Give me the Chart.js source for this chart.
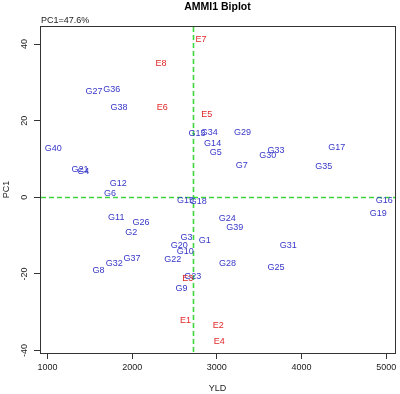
<!DOCTYPE html>
<html>
<head>
<meta charset="utf-8">
<script src="https://cdn.jsdelivr.net/npm/chart.js@4.4.1/dist/chart.umd.min.js"></script>
<style>
  body { margin: 0; background: #fff; }
</style>
</head>
<body>
<canvas id="biplot" width="400" height="394"></canvas>
<script>
// genotypes
var genNames = ["G1","G2","G3","G4","G5","G6","G7","G8","G9","G10",
  "G11","G12","G13","G14","G15","G16","G17","G18","G19","G20",
  "G21","G22","G23","G24","G25","G26","G27","G28","G29","G30",
  "G31","G32","G33","G34","G35","G36","G37","G38","G39","G40"];
var genYld = [2856,1989,2643,1423,2986,1738,3293,1604,2584,2627,
  1812,1836,2765,2950,2631,4977,4414,2781,4906,2556,
  1384,2478,2714,3123,3698,2104,1549,3127,3304,3600,
  3843,1789,3698,2910,4261,1758,1998,1844,3210,1068];
var genPc1 = [-11.2,-9.1,-10.5,6.6,11.8,1.1,8.3,-19.0,-23.8,-14.2,
  -5.3,3.7,16.7,14.0,-0.9,-0.9,13.1,-1.2,-4.3,-12.5,
  7.3,-16.3,-20.7,-5.5,-18.3,-6.5,27.7,-17.4,16.9,11.0,
  -12.5,-17.2,12.2,17.0,8.0,28.2,-16.1,23.5,-7.8,12.8];

// environments
var envNames = ["E1","E2","E3","E4","E5","E6","E7","E8"];
var envYld = [2631,3017,2655,3028,2880,2355,2812,2340];
var envPc1 = [-32.2,-33.4,-21.1,-37.6,21.7,23.5,41.3,35.0];

var meanYld = 2721;
var xTicks = [1000,2000,3000,4000,5000];
var yTicks = [-40,-20,0,20,40];

var FONT = "'Liberation Sans', Arial, sans-serif";

function toPoints(xs, ys){
  var pts = [];
  for (var i = 0; i < xs.length; i++) pts.push({x: xs[i], y: ys[i]});
  return pts;
}

// draws mean lines, point labels, box, title
var biplotPlugin = {
  id: "biplot",
  afterDatasetsDraw: function(chart){
    var ctx = chart.ctx, a = chart.chartArea;
    var xs = chart.scales.x, ys = chart.scales.y;

    // dashed green lines
    ctx.save();
    ctx.strokeStyle = "rgb(60,215,60)";
    ctx.lineWidth = 1.6;
    ctx.setLineDash([5,3]);
    var px = Math.round(xs.getPixelForValue(meanYld)) + 0.5;
    var py = Math.round(ys.getPixelForValue(0)) + 0.5;
    ctx.beginPath();
    ctx.moveTo(px, a.top + 1); ctx.lineTo(px, a.bottom);
    ctx.moveTo(a.left + 1, py); ctx.lineTo(a.right, py);
    ctx.stroke();
    ctx.restore();

    ctx.save();
    ctx.font = "9px " + FONT;
    ctx.textAlign = "center";
    ctx.textBaseline = "middle";
    chart.data.datasets.forEach(function(ds, di){
      var meta = chart.getDatasetMeta(di);
      ctx.fillStyle = ds.textColor;
      meta.data.forEach(function(el, i){
        ctx.fillText(ds.names[i], el.x, el.y);
      });
    });
    // box
    ctx.strokeStyle = "#333";
    ctx.lineWidth = 1;
    ctx.strokeRect(Math.round(a.left) + 0.5, Math.round(a.top) + 0.5,
      Math.round(a.right - a.left), Math.round(a.bottom - a.top));
    // titles
    ctx.fillStyle = "#000";
    ctx.font = "bold 10.5px " + FONT;
    ctx.fillText("AMMI1 Biplot", (a.left + a.right) / 2, 7);
    ctx.fillStyle = "#222";
    ctx.font = "9px " + FONT;
    ctx.textAlign = "left";
    ctx.fillText("PC1=47.6%", a.left + 1, 21);
    ctx.restore();
  }
};

new Chart(document.getElementById("biplot"), {
  type: "scatter",
  data: {
    datasets: [
      {names: genNames, textColor: "rgb(55,55,200)", data: toPoints(genYld, genPc1), pointRadius: 0},
      {names: envNames, textColor: "rgb(225,40,40)", data: toPoints(envYld, envPc1), pointRadius: 0}
    ]
  },
  options: {
    responsive: false,
    animation: false,
    layout: {padding: {left: 0, top: 26, right: 5, bottom: 0}},
    plugins: {legend: {display: false}, tooltip: {enabled: false}},
    scales: {
      x: {
        type: "linear",
        min: 912, max: 5103,
        afterBuildTicks: function(s){ s.ticks = xTicks.map(function(v){ return {value: v}; }); },
        afterFit: function(s){ s.height = 41; },
        grid: {display: true, drawOnChartArea: false, drawTicks: true, tickLength: 6, color: "#333"},
        border: {display: false},
        ticks: {font: {size: 9, family: FONT}, color: "#222", padding: 3, maxRotation: 0,
          callback: function(v){ return String(v); }},
        title: {display: true, text: "YLD", font: {size: 9, family: FONT}, color: "#222", padding: {top: 0, bottom: 0}}
      },
      y: {
        type: "linear",
        min: -40.65, max: 44.7,
        afterBuildTicks: function(s){ s.ticks = yTicks.map(function(v){ return {value: v}; }); },
        afterFit: function(s){ s.width = 40; },
        grid: {display: true, drawOnChartArea: false, drawTicks: true, tickLength: 6, color: "#333"},
        border: {display: false},
        ticks: {font: {size: 9, family: FONT}, color: "#222", padding: 3, minRotation: 90, maxRotation: 90, crossAlign: "center",
          callback: function(v){ return String(v); }},
        title: {display: true, text: "PC1", font: {size: 9, family: FONT}, color: "#222", padding: {top: 1, bottom: 0}}
      }
    }
  },
  plugins: [biplotPlugin]
});
</script>
</body>
</html>
